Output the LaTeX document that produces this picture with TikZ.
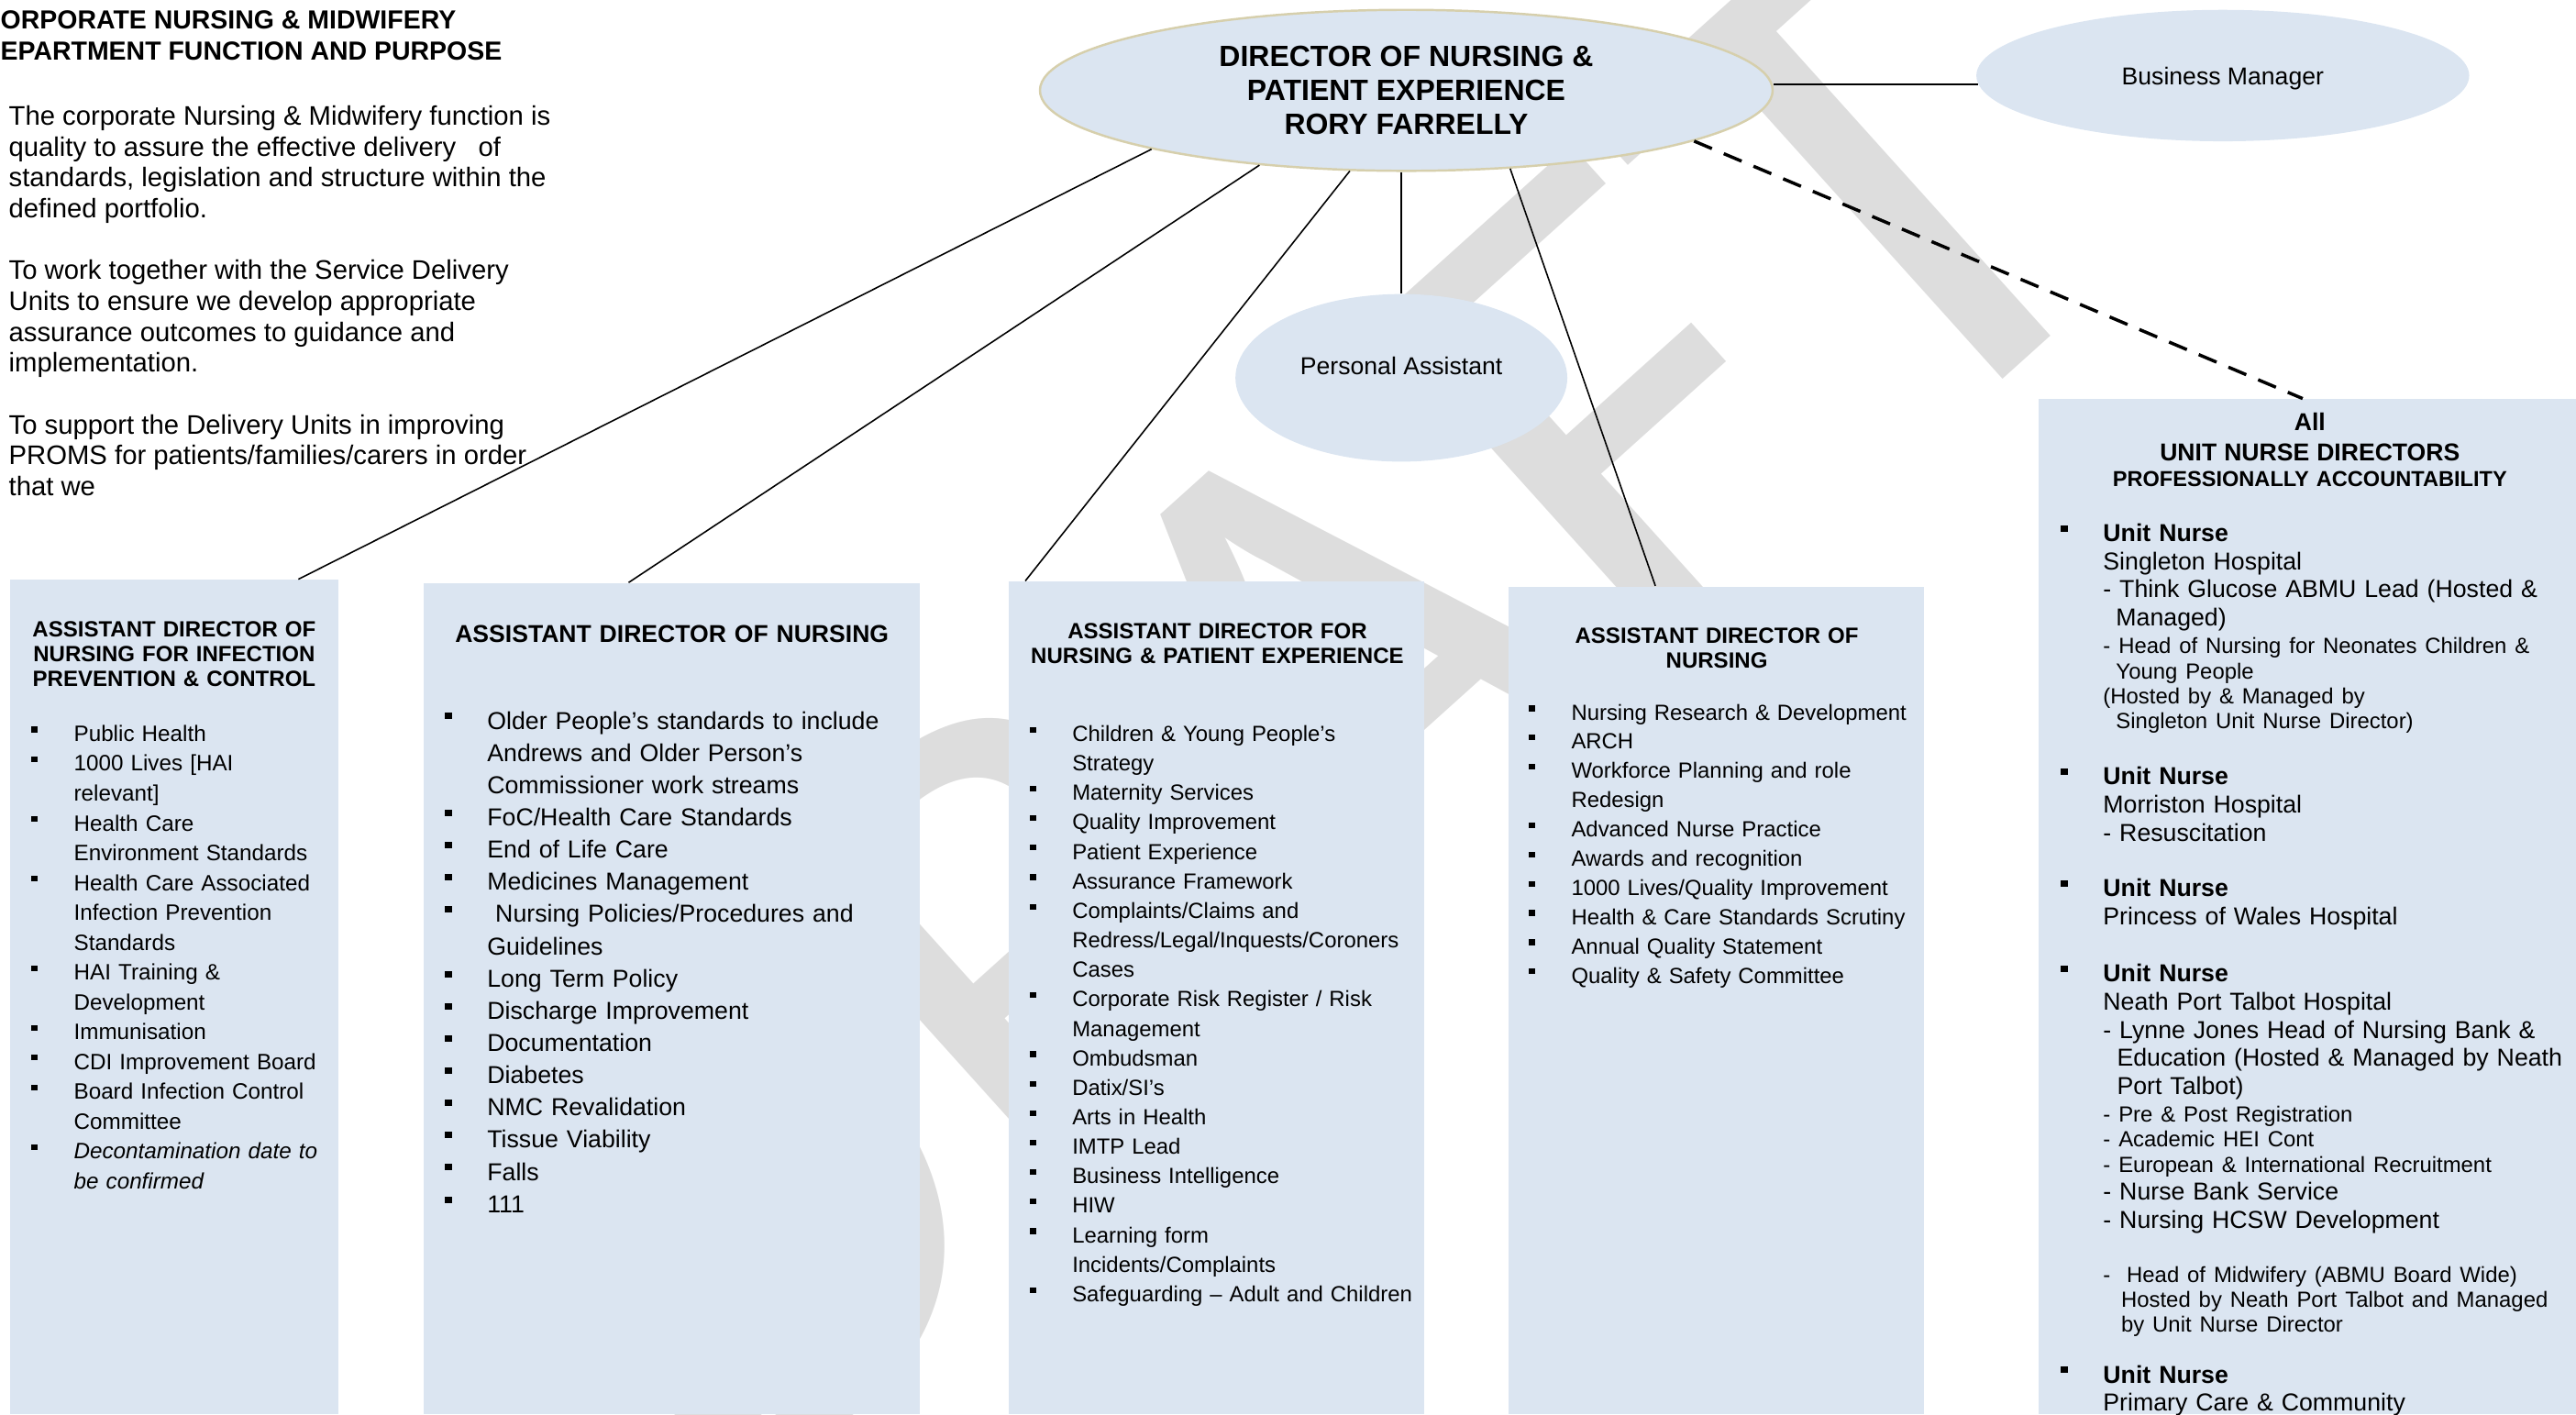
\documentclass[tikz,border=0pt]{standalone}
\usepackage{fontspec}
\setmainfont{Liberation Sans}
\newfontfamily\wmfont{Carlito}
\usetikzlibrary{shapes.geometric,fit,calc}

\definecolor{boxblue}{RGB}{219,229,241}
\definecolor{rimtan}{RGB}{214,207,172}
\definecolor{wmgrey}{RGB}{221,221,221}

\def\px{0.017915cm}
\newlength{\listind}
\setlength{\listind}{13.15pt}
\newcommand{\sqbul}{\rule[0.4em]{0.28em}{0.26em}}
\newcommand{\bitem}[1]{\hangindent=\listind\hangafter=1\noindent\makebox[\listind][l]{\sqbul}#1\par}
\newcommand{\subln}[1]{\hangindent=\listind\hangafter=0\noindent #1\par}
\newcommand{\ufont}{\fontsize{7.6}{8.7}\selectfont}
\newcommand{\sfont}{\fontsize{6.8}{7.75}\selectfont}

\tikzset{
  oval/.style={ellipse, fill=boxblue, inner sep=0pt},
  panel/.style={fill=boxblue, inner sep=0pt},
  head/.style={inner sep=0pt, align=center, font=\bfseries\fontsize{6.84}{7.65}\selectfont},
  items/.style={anchor=north west, inner sep=0pt, align=left, text width=#1},
  link/.style={line width=0.45pt},
}

\begin{document}
\begin{tikzpicture}[x=\px, y=-\px]
\useasboundingbox (0,0) rectangle (1568,861);
\clip (0,0) rectangle (1568,861);

% watermark
\node[rotate=42, text=wmgrey, inner sep=0pt, font=\wmfont\fontsize{224}{224}\selectfont] (wm) at (781,436) {DRAFT};

% left column
\node[anchor=north west, inner sep=0pt, align=left, font=\bfseries\fontsize{8.1}{9.7}\selectfont] (ttl) at (-11.5,6.3)
  {CORPORATE NURSING \& MIDWIFERY\\DEPARTMENT FUNCTION AND PURPOSE};
\node[anchor=north west, inner sep=0pt, align=left, font=\fontsize{8.33}{9.58}\selectfont] (purpose) at (5,63.9)
  {The corporate Nursing \& Midwifery function is\\
   quality to assure the effective delivery\ \ \ of\\
   standards, legislation and structure within the\\
   defined portfolio.\\[9.58pt]
   To work together with the Service Delivery\\
   Units to ensure we develop appropriate\\
   assurance outcomes to guidance and\\
   implementation.\\[9.58pt]
   To support the Delivery Units in improving\\
   PROMS for patients/families/carers in order\\
   that we};

% ovals
\node[oval, draw=rimtan, line width=0.7pt, minimum width=446*\px, minimum height=98*\px, align=center,
      font=\bfseries\fontsize{9.1}{10.45}\selectfont] (dir) at (856,55)
  {DIRECTOR OF NURSING \&\\PATIENT EXPERIENCE\\RORY FARRELLY};
\node[oval, minimum width=300*\px, minimum height=80*\px, text depth=0pt, font=\fontsize{7.57}{9}\selectfont] (bm) at (1353,46) {Business Manager};
\node[oval, minimum width=202*\px, minimum height=102*\px] (pa) at (853,230) {};
\node[inner sep=0pt, font=\fontsize{7.57}{9}\selectfont] (patxt) at ($(pa.center)+(0,-7)$) {Personal Assistant};

% panels
\node[panel, fit={(6,353) (206,861)}] (b1) {};
\node[panel, fit={(258,355) (560,861)}] (b2) {};
\node[panel, fit={(614,354) (867,861)}] (b3) {};
\node[panel, fit={(918,357) (1171,861)}] (b4) {};
\node[panel, fit={(1241,243) (1580,861)}] (b5) {};

% panel headings
\node[head, text width=190pt] (h1) at (106,398)
  {ASSISTANT DIRECTOR OF\par NURSING FOR INFECTION\par PREVENTION \& CONTROL};
\node[head, text width=200pt, font=\bfseries\fontsize{7.56}{9}\selectfont] (h2) at (409,386) {ASSISTANT DIRECTOR OF NURSING};
\node[head, text width=200pt] (h3) at (741,391.5) {ASSISTANT DIRECTOR FOR\par NURSING \& PATIENT EXPERIENCE};
\node[head, text width=200pt] (h4) at (1045,394.5) {ASSISTANT DIRECTOR OF\par NURSING};
\node[head, text width=200pt] (h5) at (1406,274)
  {{\fontsize{7.56}{9.17}\selectfont All\par UNIT NURSE DIRECTORS\par}%
   {\fontsize{6.71}{8.15}\selectfont PROFESSIONALLY ACCOUNTABILITY\par}};

% panel items
\node[items=100pt, font=\fontsize{6.9}{9.25}\selectfont] (l1) at (18.8,441.1) {%
  \bitem{Public Health}
  \bitem{1000 Lives [HAI\newline relevant]}
  \bitem{Health Care\newline Environment Standards}
  \bitem{Health Care Associated\newline Infection Prevention\newline Standards}
  \bitem{HAI Training \&\newline Development}
  \bitem{Immunisation}
  \bitem{CDI Improvement Board}
  \bitem{Board Infection Control\newline Committee}
  \bitem{\textit{Decontamination date to\newline be confirmed}}};
\node[items=150pt, font=\fontsize{7.6}{10}\selectfont] (l2) at (270.4,432.6) {%
  \bitem{Older People’s standards to include\newline Andrews and Older Person’s\newline Commissioner work streams}
  \bitem{FoC/Health Care Standards}
  \bitem{End of Life Care}
  \bitem{Medicines Management}
  \bitem{\ Nursing Policies/Procedures and\newline Guidelines}
  \bitem{Long Term Policy}
  \bitem{Discharge Improvement}
  \bitem{Documentation}
  \bitem{Diabetes}
  \bitem{NMC Revalidation}
  \bitem{Tissue Viability}
  \bitem{Falls}
  \bitem{111}};
\node[items=135pt, font=\fontsize{6.8}{9.15}\selectfont] (l3) at (626.5,441.2) {%
  \bitem{Children \& Young People’s\newline Strategy}
  \bitem{Maternity Services}
  \bitem{Quality Improvement}
  \bitem{Patient Experience}
  \bitem{Assurance Framework}
  \bitem{Complaints/Claims and\newline Redress/Legal/Inquests/Coroners\newline Cases}
  \bitem{Corporate Risk Register / Risk\newline Management}
  \bitem{Ombudsman}
  \bitem{Datix/SI’s}
  \bitem{Arts in Health}
  \bitem{IMTP Lead}
  \bitem{Business Intelligence}
  \bitem{HIW}
  \bitem{Learning form\newline Incidents/Complaints}
  \bitem{Safeguarding – Adult and Children}};
\node[items=135pt, font=\fontsize{6.8}{9.07}\selectfont] (l4) at (930.3,428.2) {%
  \bitem{Nursing Research \& Development}
  \bitem{ARCH}
  \bitem{Workforce Planning and role\newline Redesign}
  \bitem{Advanced Nurse Practice}
  \bitem{Awards and recognition}
  \bitem{1000 Lives/Quality Improvement}
  \bitem{Health \& Care Standards Scrutiny}
  \bitem{Annual Quality Statement}
  \bitem{Quality \& Safety Committee}};

% unit nurse groups
\node[items=170pt, font=\ufont] (u1) at (1254,318.6) {%
  \bitem{\textbf{Unit Nurse}\newline Singleton Hospital\newline - Think Glucose ABMU Lead (Hosted \&\newline\hspace*{4pt}Managed)}
  {\sfont\vspace{0.9pt}\subln{- Head of Nursing for Neonates Children \&\newline\hspace*{4pt}Young People\newline (Hosted by \& Managed by\newline\hspace*{4pt}Singleton Unit Nurse Director)}}};
\node[items=170pt, font=\ufont] (u2) at (1254,466.6) {%
  \bitem{\textbf{Unit Nurse}\newline Morriston Hospital\newline - Resuscitation}};
\node[items=170pt, font=\ufont] (u3) at (1254,534.6) {%
  \bitem{\textbf{Unit Nurse}\newline Princess of Wales Hospital}};
\node[items=170pt, font=\ufont] (u4) at (1254,586.6) {%
  \bitem{\textbf{Unit Nurse}\newline Neath Port Talbot Hospital\newline - Lynne Jones Head of Nursing Bank \&\newline\hspace*{4.3pt}Education (Hosted \& Managed by Neath\newline\hspace*{4.3pt}Port Talbot)}
  {\sfont\vspace{0.9pt}\subln{- Pre \& Post Registration\newline - Academic HEI Cont\newline - European \& International Recruitment}}
  \subln{- Nurse Bank Service\newline - Nursing HCSW Development}
  {\sfont\vspace{9pt}\subln{-\ \ Head of Midwifery (ABMU Board Wide)\newline\hspace*{5.6pt}Hosted by Neath Port Talbot and Managed\newline\hspace*{5.6pt}by Unit Nurse Director}}};
\node[items=170pt, font=\ufont] (u5) at (1254,830.6) {%
  \bitem{\textbf{Unit Nurse}\newline Primary Care \& Community}};

% connectors
\draw[link] (dir.193) -- ($(b1.north west)+(176,0)$);
\draw[link] (dir.207) -- ($(b2.north west)+(125,0)$);
\draw[link] (dir.235) -- ($(b3.north west)+(10.5,0)$);
\draw[link] (pa.north |- dir.south) -- (pa.north);
\draw[link] (dir.323) -- ($(b4.north west)+(90,0)$);
\draw[link] (bm.182) -- (bm.182 -| dir.east);
\draw[line width=1pt, dash pattern=on 6pt off 4pt] (dir.350) -- ($(b5.north west)+(161,0)$);
\end{tikzpicture}
\end{document}
